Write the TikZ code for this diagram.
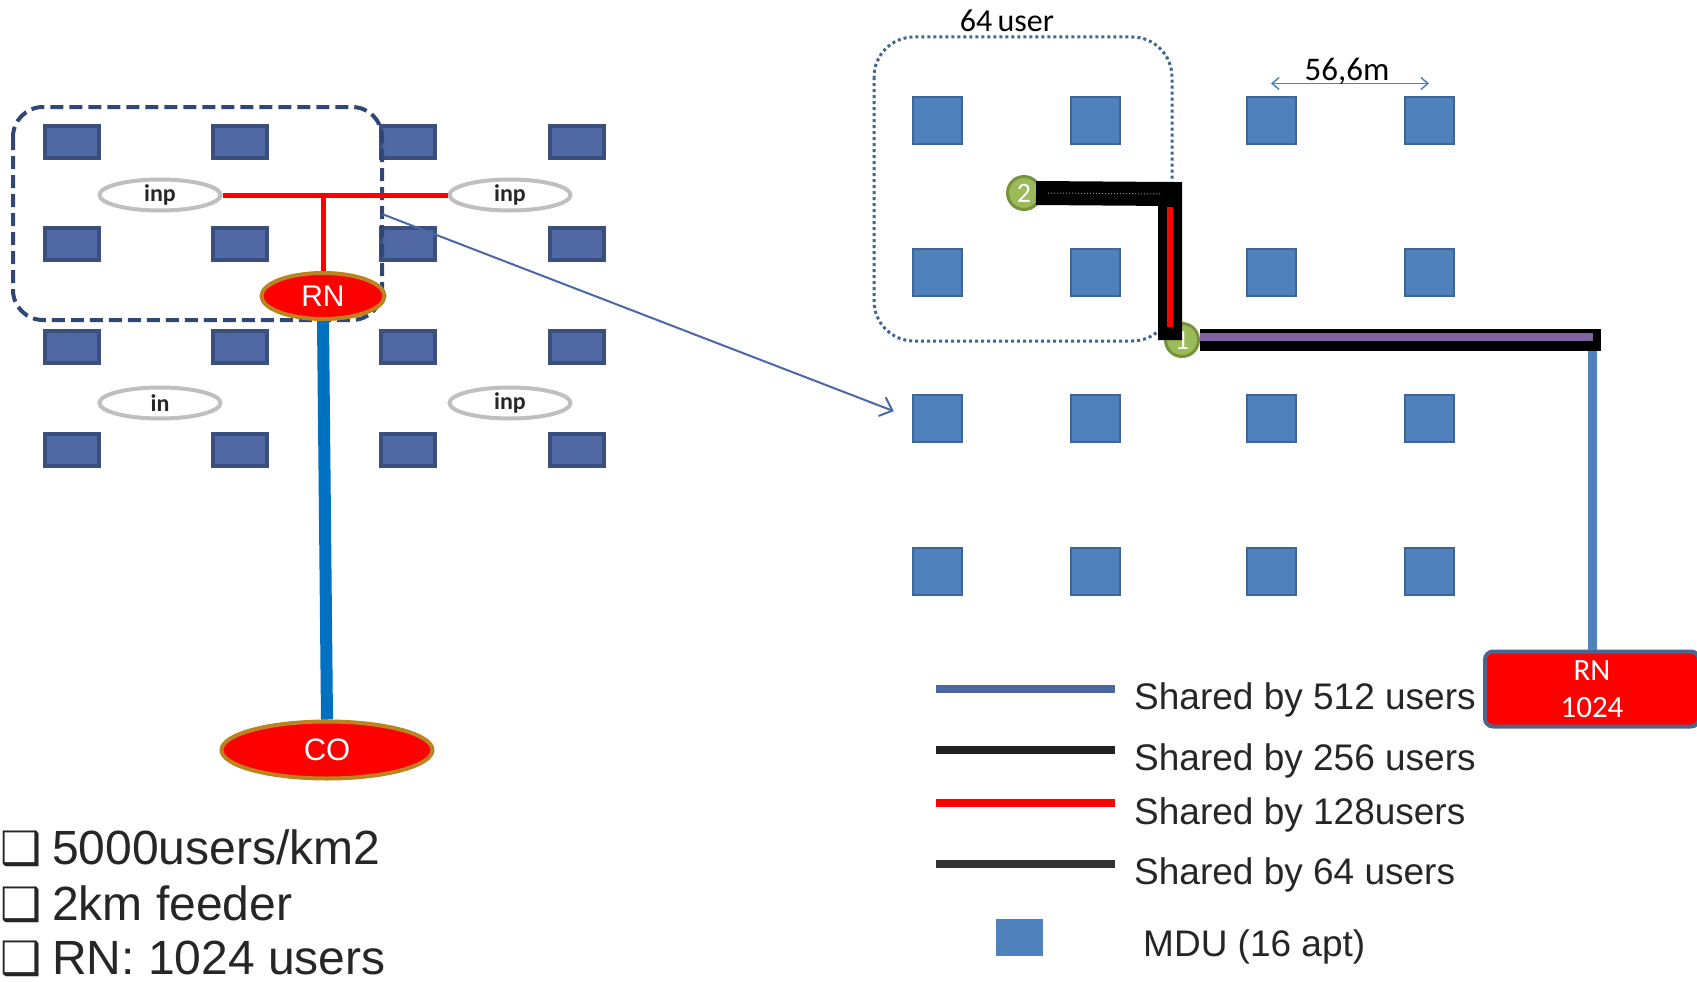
\documentclass[tikz,border=0pt]{standalone}
\usepackage{fontspec}
\setmainfont{Liberation Sans}
\newfontfamily\calfont{Carlito}
\newfontfamily\symfont{DejaVu Sans}
\usetikzlibrary{shapes.geometric,arrows.meta}
\definecolor{mduleft}{HTML}{5069A5}
\definecolor{mduleftb}{HTML}{3A4F7D}
\definecolor{mdu}{HTML}{4F81BD}
\definecolor{mdub}{HTML}{3D6596}
\definecolor{navy}{HTML}{2F4676}
\definecolor{gold}{HTML}{BC8420}
\definecolor{feeder}{HTML}{0070C0}
\definecolor{olive}{HTML}{9BBB59}
\definecolor{oliveb}{HTML}{76923C}
\definecolor{purp}{HTML}{8064A2}
\definecolor{slate}{HTML}{4A6690}
\definecolor{txt}{HTML}{262626}
\definecolor{leg512}{HTML}{4A67A0}
\definecolor{zoomline}{HTML}{4A68A8}
\begin{document}
\begin{tikzpicture}[
 x=1pt,y=-1pt,
 blk/.style={draw=mduleftb,fill=mduleft,line width=4pt,minimum width=54pt,minimum height=32pt,inner sep=0pt},
 mdubox/.style={draw=mdub,fill=mdu,line width=2pt,minimum width=49pt,minimum height=47pt,inner sep=0pt},
 inpnode/.style={ellipse,draw=black!25,fill=white,line width=4pt,minimum width=121pt,minimum height=31pt,inner sep=0pt,text=txt,font=\calfont\bfseries\fontsize{24}{24}\selectfont},
 hub/.style={ellipse,draw=gold,fill=red,line width=4pt,minimum width=123pt,minimum height=46pt,inner sep=0pt,text=white,font=\fontsize{30}{30}\selectfont},
 pin/.style={circle,draw=oliveb,fill=olive,line width=3pt,minimum size=33pt,inner sep=0pt,text=white,font=\calfont\fontsize{28}{28}\selectfont},
 rnbox/.style={draw=slate,fill=red,line width=4pt,rounded corners=8pt,minimum width=214pt,minimum height=75pt,inner sep=0pt,align=center,text=white,font=\calfont\fontsize{31}{37}\selectfont},
 legtxt/.style={anchor=base west,inner sep=0pt,text=txt,font=\fontsize{37}{37}\selectfont},
 bul/.style={anchor=base west,inner sep=0pt,text=txt,font=\fontsize{48}{48}\selectfont}
]
\clip (0,0) rectangle (1697,982);
\begin{scope}
\node[blk] (a11) at (72,142) {};
\node[blk] (a12) at (240,142) {};
\node[blk] (a13) at (408,142) {};
\node[blk] (a14) at (577,142) {};
\node[blk] (a21) at (72,244) {};
\node[blk] (a22) at (240,244) {};
\node[blk] (a23) at (408,244) {};
\node[blk] (a24) at (577,244) {};
\node[blk] (a31) at (72,347) {};
\node[blk] (a32) at (240,347) {};
\node[blk] (a33) at (408,347) {};
\node[blk] (a34) at (577,347) {};
\node[blk] (a41) at (72,450) {};
\node[blk] (a42) at (240,450) {};
\node[blk] (a43) at (408,450) {};
\node[blk] (a44) at (577,450) {};
\draw[navy,line width=4pt,dash pattern=on 13pt off 6pt,rounded corners=30pt] (13,107) rectangle (382,320);
\coordinate (zoomsrc) at (382,214);
\node[inpnode] (p1) at (160,195) {inp};
\node[inpnode] (p2) at (510,195) {inp};
\node[inpnode] (p3) at (160,403) {in};
\node[inpnode] (p4) at (510,403) {inp};
\node[hub] (rn) at (323,296) {RN};
\node[hub,minimum width=211pt,minimum height=57pt,font=\fontsize{31}{31}\selectfont] (co) at (327,750) {CO};
\draw[red,line width=5pt] (p1.east) -- (p2.west);
\draw[red,line width=5pt] (rn.north) -- (rn.north |- p1);
\draw[feeder,line width=12pt] (rn.south) -- (co.north);
\end{scope}
\begin{scope}
\draw[mdub,line width=3pt,dash pattern=on 3pt off 3pt,rounded corners=40pt] (874,37) rectangle (1172,341);
\node[anchor=base,inner sep=0pt,font=\calfont\fontsize{32}{32}\selectfont] (cap64) at (1007,32) {64\,user};
\node[mdubox] (r11) at (937,120) {};
\node[mdubox] (r12) at (1095,120) {};
\node[mdubox] (r13) at (1271,120) {};
\node[mdubox] (r14) at (1429,120) {};
\node[mdubox] (r21) at (937,272) {};
\node[mdubox] (r22) at (1095,272) {};
\node[mdubox] (r23) at (1271,272) {};
\node[mdubox] (r24) at (1429,272) {};
\node[mdubox] (r31) at (937,418) {};
\node[mdubox] (r32) at (1095,418) {};
\node[mdubox] (r33) at (1271,418) {};
\node[mdubox] (r34) at (1429,418) {};
\node[mdubox] (r41) at (937,571) {};
\node[mdubox] (r42) at (1095,571) {};
\node[mdubox] (r43) at (1271,571) {};
\node[mdubox] (r44) at (1429,571) {};
\draw[mdu,line width=1.5pt,{Straight Barb[length=7pt,width=12pt]}-{Straight Barb[length=7pt,width=12pt]}] ([yshift=12pt]r13.north) -- ([yshift=12pt]r14.north);
\node[anchor=base,inner sep=0pt,font=\calfont\fontsize{33}{33}\selectfont] (dist) at (1347,81) {56,6m};
\node[rnbox] (rnb) at (1592,689) {RN\\1024};
\node[pin] (c2) at (1024,193) {2};
\node[pin] (c1) at (1182,340) {1};
\coordinate (k2) at (1170,194);
\coordinate (k1) at (1601,340);
\draw[mdu,line width=9pt] (rnb.north |- k1) -- (rnb.north);
\draw[line width=24pt] ([xshift=-6pt]c2.east) -- (k2) -- (k2 |- c1);
\draw[black!45,line width=1pt,dash pattern=on 1pt off 2pt] ([xshift=6pt]c2.east) -- ([xshift=-8pt]k2);
\draw[red,line width=6pt] ([yshift=-13pt]k2) -- ([yshift=13pt]k2 |- c1);
\draw[line width=22pt] (c1.east) -- (c1.east -| k1);
\draw[purp,line width=8pt,shorten >=8pt] ([yshift=3pt]c1.east) -- ([yshift=3pt]c1.east -| k1);
\end{scope}
\draw[zoomline,line width=2pt,shorten >=19pt,-{Straight Barb[length=11pt,width=20pt]}] (zoomsrc) -- (r31.west);
\draw[leg512,line width=8pt] (936,689) -- (1115,689);
\draw[black!87,line width=8pt] (936,750) -- (1115,750);
\draw[red,line width=8pt] (936,803) -- (1115,803);
\draw[black!80,line width=8pt] (936,864) -- (1115,864);
\node[legtxt] (l512) at (1134,709) {Shared by 512 users};
\node[legtxt] (l256) at (1134,770) {Shared by 256 users};
\node[legtxt] (l128) at (1134,824) {Shared by 128users};
\node[legtxt] (l64) at (1134,884) {Shared by 64 users};
\node[fill=mdu,minimum width=47pt,minimum height=37pt,inner sep=0pt] (lmdu) at (1019,937) {};
\node[legtxt] (lmdutxt) at (1143,956) {MDU (16 apt)};
\node[bul] (b1) at (0,864) {\makebox[52pt][l]{\symfont\fontsize{46}{46}\selectfont ❑}5000users/km2};
\node[bul] (b2) at (0,920) {\makebox[52pt][l]{\symfont\fontsize{46}{46}\selectfont ❑}2km feeder};
\node[bul] (b3) at (0,974) {\makebox[52pt][l]{\symfont\fontsize{46}{46}\selectfont ❑}RN: 1024 users};
\end{tikzpicture}
\end{document}
